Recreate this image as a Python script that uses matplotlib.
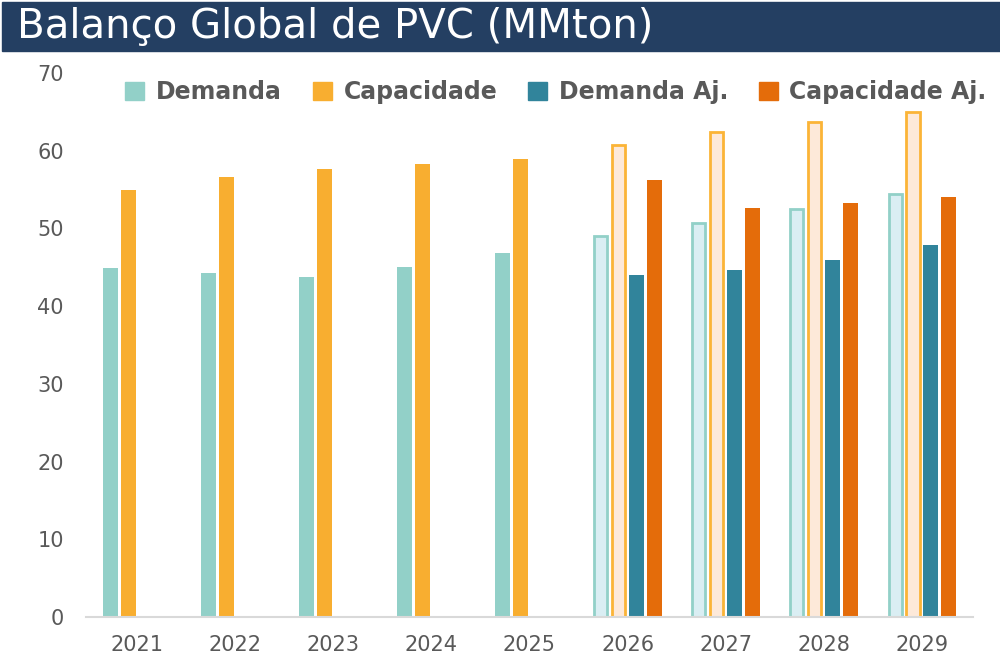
#!/usr/bin/env python3
import numpy as np
import matplotlib
matplotlib.use("Agg")
import matplotlib.pyplot as plt
from matplotlib.patches import Patch, Rectangle

years = ["2021", "2022", "2023", "2024", "2025", "2026", "2027", "2028", "2029"]
demanda = [44.9, 44.3, 43.7, 45.0, 46.8, 49.0, 50.7, 52.5, 54.4]
capacidade = [54.9, 56.6, 57.6, 58.3, 58.9, 60.7, 62.4, 63.7, 65.0]
# ajustados only exist for projected years
proj_years = ["2026", "2027", "2028", "2029"]
demanda_aj = [44.0, 44.7, 46.0, 47.9]
capacidade_aj = [56.2, 52.6, 53.3, 54.0]

GRAY = "#595959"
C_DEM = "#92D0C8"
C_CAP = "#F8AE30"
C_DEM_AJ = "#31849B"
C_CAP_AJ = "#E46C0A"

fig = plt.figure(figsize=(10, 6.61), dpi=100)

# title banner
fig.patches.append(Rectangle((0.002, 1 - 51 / 661), 0.998, 49 / 661,
                             transform=fig.transFigure, color="#243F62", zorder=0))
fig.text(0.017, 1 - 38.5 / 661, "Balanço Global de PVC (MMton)", color="white",
         fontsize=29, family="DejaVu Sans", va="baseline", ha="left")

ax = fig.add_axes([0.086, 44 / 661, 0.887, 544 / 661])

x = np.arange(len(years))
xp = np.array([years.index(y) for y in proj_years])
w = 0.153
step = 0.183
proj = np.array([y in proj_years for y in years])

dem = np.array(demanda)
cap = np.array(capacidade)

# historical: solid
ax.bar(x[~proj] - 1.5 * step, dem[~proj], w, color=C_DEM, zorder=2)
ax.bar(x[~proj] - 0.5 * step, cap[~proj], w, color=C_CAP, zorder=2)
# projected: light fill with coloured edge
ax.bar(x[proj] - 1.5 * step, dem[proj], w - 0.02, color="#DAEEF3",
       edgecolor=C_DEM, linewidth=2, zorder=2)
ax.bar(x[proj] - 0.5 * step, cap[proj], w - 0.02, color="#FDE9D9",
       edgecolor="#FBB437", linewidth=2, zorder=2)
ax.bar(xp + 0.5 * step, demanda_aj, w, color=C_DEM_AJ, zorder=2)
ax.bar(xp + 1.5 * step, capacidade_aj, w, color=C_CAP_AJ, zorder=2)

ax.set_xlim(-0.52, 8.52)
ax.set_ylim(0, 70)
ax.set_yticks(range(0, 71, 10))
ax.set_xticks(x, years)
ax.tick_params(length=0, labelsize=15, labelcolor=GRAY)
ax.tick_params(axis="y", pad=16)
ax.tick_params(axis="x", pad=13)
for s in ["top", "right", "left"]:
    ax.spines[s].set_visible(False)
ax.spines["bottom"].set_color("#D9D9D9")
ax.spines["bottom"].set_linewidth(1.5)

handles = [Patch(color=C_DEM, label="Demanda"),
           Patch(color=C_CAP, label="Capacidade"),
           Patch(color=C_DEM_AJ, label="Demanda Aj."),
           Patch(color=C_CAP_AJ, label="Capacidade Aj.")]
leg = fig.legend(handles=handles, loc="center", ncol=4, frameon=False,
                 bbox_to_anchor=(0.556, 1 - 92 / 661),
                 prop={"size": 17, "weight": "bold"},
                 handlelength=0.8, handleheight=0.8, handletextpad=0.5,
                 columnspacing=1.3)
for t in leg.get_texts():
    t.set_color(GRAY)

fig.savefig("out.png", dpi=100)
